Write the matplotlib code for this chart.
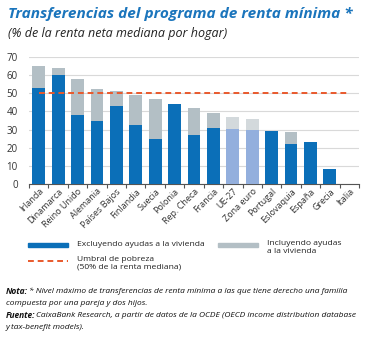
import matplotlib
matplotlib.use('Agg')
import matplotlib.pyplot as plt
from matplotlib.lines import Line2D
from matplotlib.patches import Rectangle

#region Data

paises = ['Irlanda', 'Dinamarca', 'Reino Unido', 'Alemania', 'Países Bajos',
          'Finlandia', 'Suecia', 'Polonia', 'Rep. Checa', 'Francia', 'UE-27',
          'Zona euro', 'Portugal', 'Eslovaquia', 'España', 'Grecia', 'Italia']

sin_vivienda = [53, 60, 38, 35, 43, 32.5, 25, 44, 27, 31, 30.5, 30, 29, 22, 23, 8, 0]
con_vivienda = [65, 64, 58, 52.5, 51, 49, 47, 44, 42, 39, 37, 36, 29, 28.5, 23, 8, 0]

umbral = 50

#endregion

#region Style

azul = '#0b6fb8'
gris = '#b3bfc5'
azul_claro = '#93afdd'
gris_claro = '#d3d9dc'
naranja = '#e9592c'
medias = ['UE-27', 'Zona euro']

plt.rcParams['font.family'] = ['Open Sans', 'DejaVu Sans']

#endregion

#region Plot

fig = plt.figure(figsize=(3.74, 3.38), dpi=100)
ax = fig.add_axes([29 / 374, 1 - 184 / 338, 330 / 374, 127 / 338])

x = list(range(len(paises)))
color_base = [azul_claro if p in medias else azul for p in paises]
color_extra = [gris_claro if p in medias else gris for p in paises]
extra = [c - s for c, s in zip(con_vivienda, sin_vivienda)]

ax.bar(x, sin_vivienda, width=0.66, color=color_base, zorder=3)
ax.bar(x, extra, bottom=sin_vivienda, width=0.66, color=color_extra, zorder=3)
ax.plot([0, len(paises) - 1], [umbral, umbral], color=naranja, lw=1.4,
        dashes=(3, 2), zorder=4)

ax.set_xlim(-0.5, len(paises) - 0.5)
ax.set_ylim(0, 70)
ax.set_yticks(range(0, 71, 10))
ax.grid(axis='y', color='#d9d9d9', lw=0.8, zorder=0)
for s in ['top', 'right', 'left']:
    ax.spines[s].set_visible(False)
ax.spines['bottom'].set_color('#555555')
ax.spines['bottom'].set_linewidth(0.8)
ax.tick_params(axis='y', length=0, labelsize=7, pad=8, colors='#333333')

ax.set_xticks([i - 0.5 for i in range(len(paises) + 1)])
ax.set_xticklabels([])
ax.tick_params(axis='x', length=3, width=0.8, color='#555555')
ax.set_xticks(x, minor=True)
ax.set_xticklabels(paises, minor=True, rotation=45, ha='right',
                   rotation_mode='anchor', fontsize=6.5, color='#333333')
ax.tick_params(axis='x', which='minor', length=0, pad=2)

fig.text(8 / 374, 1 - 14 / 338, 'Transferencias del programa de renta mínima *',
         fontsize=11.1, fontweight='bold', style='italic', color='#1b75bc',
         va='center')
fig.text(8 / 374, 1 - 33 / 338, '(% de la renta neta mediana por hogar)',
         fontsize=9, style='italic', color='#222222', va='center')

# legend
def fx(px):
    return px / 374

def fy(py):
    return 1 - py / 338

fig.patches.append(Rectangle((fx(28), fy(247)), fx(40), 4 / 338, color=azul,
                             transform=fig.transFigure, figure=fig))
fig.patches.append(Rectangle((fx(218), fy(247)), fx(40), 4 / 338, color=gris,
                             transform=fig.transFigure, figure=fig))
fig.lines.append(Line2D([fx(28), fx(68)], [fy(261), fy(261)], color=naranja,
                        lw=1.4, dashes=(3, 2), transform=fig.transFigure))
fig.text(fx(77), fy(245), 'Excluyendo ayudas a la vivienda', fontsize=6.1,
         va='center', color='#222222')
fig.text(fx(267), fy(240), 'Incluyendo ayudas\na la vivienda', fontsize=6.1,
         va='top', color='#222222', linespacing=1.2)
fig.text(fx(77), fy(256), 'Umbral de pobreza\n(50% de la renta mediana)',
         fontsize=6.1, va='top', color='#222222', linespacing=1.2)

# notes
fig.canvas.draw()
renderer = fig.canvas.get_renderer()
nota_rest = ['* Nivel máximo de transferencias de renta mínima a las que tiene derecho una familia',
             'compuesta por una pareja y dos hijos.']
fuente_rest = ['CaixaBank Research, a partir de datos de la OCDE (OECD income distribution database',
               'y tax-benefit models).']
lineas = [('Nota:', nota_rest), ('Fuente:', fuente_rest)]
y0 = 291
paso = 12.3
fila = 0
for etiqueta, resto in lineas:
    t = fig.text(fx(6), fy(y0 + paso * fila), etiqueta, fontsize=6,
                 fontweight='bold', style='italic', va='center', color='#111111')
    w = t.get_window_extent(renderer).width
    fig.text(fx(6 + w + 1), fy(y0 + paso * fila), resto[0], fontsize=6,
             style='italic', va='center', color='#111111')
    fila += 1
    for r in resto[1:]:
        fig.text(fx(6), fy(y0 + paso * fila), r, fontsize=6, style='italic',
                 va='center', color='#111111')
        fila += 1

#endregion

fig.savefig('out.png', dpi=100)
